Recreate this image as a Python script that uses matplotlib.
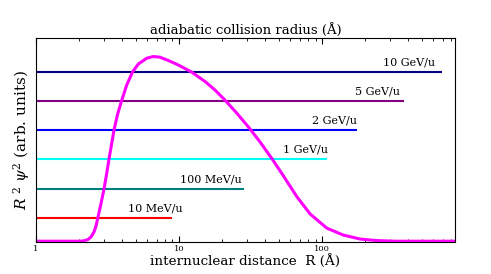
#!/usr/bin/env python3

import matplotlib
matplotlib.use('Agg')
import matplotlib.pyplot as plt

# energies and the adiabatic radius (right end of each bar, in Angstrom)
labels = ['10 MeV/u', '100 MeV/u', '1 GeV/u', '2 GeV/u', '5 GeV/u', '10 GeV/u']
radius = [8.9, 28.5, 108, 176, 374, 690]
level = [0.118, 0.26, 0.407, 0.549, 0.691, 0.833]
label_x = [10.6, 27.6, 110, 176, 351, 617]
colors = ['#ff0000', '#008080', '#00ffff', '#0000ff', '#800080', '#000080']

# R^2 psi^2
R = [1.0, 2.031, 2.166, 2.310, 2.424, 2.544, 2.628, 2.705, 2.848, 2.989, 3.112,
     3.240, 3.373, 3.511, 3.715, 3.963, 4.308, 4.730, 5.193, 5.944, 6.612, 7.364,
     8.419, 9.888, 12.23, 15.20, 17.86, 20.81, 25.44, 31.12, 36.86, 44.70, 53.62,
     66.56, 82.44, 107.9, 140.9, 184.4, 234.8, 323.9, 850]
psi2 = [0.0039, 0.0039, 0.0059, 0.0123, 0.0245, 0.0490, 0.0784, 0.1176, 0.1887,
        0.2598, 0.3309, 0.4069, 0.4779, 0.5490, 0.6250, 0.6912, 0.7696, 0.8333,
        0.8725, 0.9010, 0.9093, 0.9059, 0.8897, 0.8676, 0.8333, 0.7868, 0.7446,
        0.6980, 0.6304, 0.5569, 0.4902, 0.4078, 0.3245, 0.2225, 0.1377, 0.0681,
        0.0338, 0.0147, 0.0074, 0.0039, 0.0039]

plt.rcParams['font.family'] = 'DejaVu Serif'
plt.rcParams['mathtext.fontset'] = 'dejavuserif'

fig = plt.figure(figsize=(4.91, 2.74), dpi=100)
ax = fig.add_axes([0.0733, 0.1168, 0.8534, 0.7445])

for r, y, lab, lx, c in zip(radius, level, labels, label_x, colors):
    ax.plot([1, r], [y, y], color=c, linewidth=1.5, solid_capstyle='butt')
    ax.annotate(lab, (lx, y), xytext=(0, 3), textcoords='offset points',
                ha='right', va='bottom', fontsize=8)

ax.plot(R, psi2, color='#ff00ff', linewidth=2.2,
        solid_joinstyle='round', solid_capstyle='round')

ax.set_xscale('log')
ax.set_xlim(1, 850)
ax.set_ylim(0, 1)
ax.set_yticks([])
ax.set_xticks([1, 10, 100])
ax.set_xticklabels(['1', '10', '100'])
ax.tick_params(axis='x', which='both', direction='in', top=True, labelsize=6, pad=2)
ax.tick_params(axis='x', which='major', length=4)
ax.tick_params(axis='x', which='minor', length=2)

ax.set_title('adiabatic collision radius (Å)', fontsize=9.5, pad=3)
ax.set_xlabel('internuclear distance  R (Å)', fontsize=9.7, labelpad=1)
ax.set_ylabel(r'$R^{\ 2}\ \psi^2$ (arb. units)', fontsize=11, labelpad=3)

plt.savefig('out.png', dpi=100)
